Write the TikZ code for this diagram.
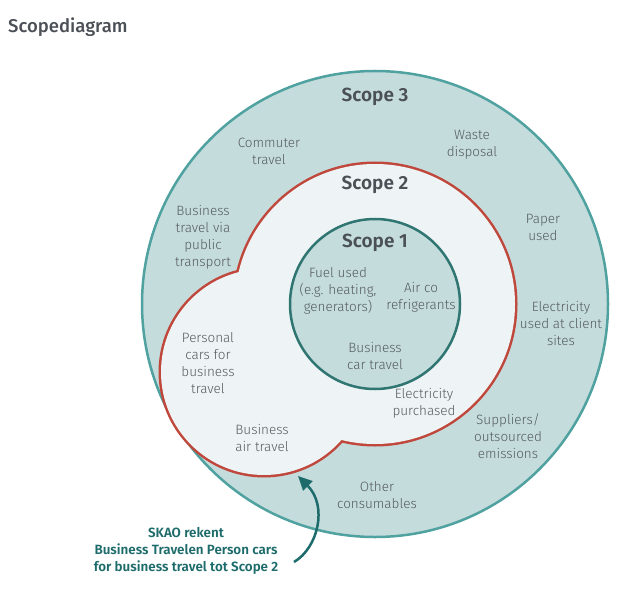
\documentclass[tikz,border=0pt]{standalone}
\usepackage{fontspec}
\setmainfont{Fira Sans}
\newfontfamily\lightfont{Fira Sans Light}
\newfontfamily\medfont{Fira Sans Medium}
\newfontfamily\semifont{Fira Sans SemiBold}
\usetikzlibrary{arrows.meta}
\definecolor{sthreefill}{HTML}{C5DCDC}
\definecolor{sthreeline}{HTML}{4FA29F}
\definecolor{stwofill}{HTML}{EEF4F5}
\definecolor{stwoline}{HTML}{C0473B}
\definecolor{soneline}{HTML}{2F7572}
\definecolor{txtgray}{HTML}{555B61}
\definecolor{hdgray}{HTML}{4A5056}
\definecolor{noteteal}{HTML}{1E6B6B}
\begin{document}
\begin{tikzpicture}[x=1pt,y=-1pt,
  lbl/.style={font=\lightfont\fontsize{13.5}{17}\selectfont, text=txtgray, align=center, inner sep=0pt},
  hd/.style={font=\semifont\fontsize{19}{22}\selectfont, text=hdgray, inner sep=0pt},
  ann/.style={font=\semifont\fontsize{13.4}{17}\selectfont, text=noteteal, align=center, inner sep=0pt},
  ttl/.style={font=\medfont\fontsize{18.5}{22}\selectfont, text=hdgray, inner sep=0pt, anchor=west}]
\useasboundingbox (0,0) rectangle (626,596);
\fill[white] (0,0) rectangle (626,596);
% Scope 3
\filldraw[fill=sthreefill, draw=sthreeline, line width=2.5pt] (375,304) circle[radius=233pt];
% Scope 2 (union of two circles)
\draw[stwoline, line width=5pt] (375,304) circle[radius=140pt];
\draw[stwoline, line width=5pt] (264,372) circle[radius=103pt];
\fill[stwofill] (375,304) circle[radius=140pt];
\fill[stwofill] (264,372) circle[radius=103pt];
% Scope 1
\filldraw[fill=sthreefill, draw=soneline, line width=2.5pt] (375,304) circle[radius=85pt];
% title
\node[ttl] (title) at (8,27) {Scopediagram};
% headings
\node[hd] (s3) at (375,97) {Scope 3};
\node[hd] (s2) at (375,185) {Scope 2};
\node[hd] (s1) at (375,243) {Scope 1};
% labels
\node[lbl] (commuter) at (269,151) {Commuter\\travel};
\node[lbl] (waste) at (472,145) {Waste\\disposal};
\node[lbl] (public) at (203,237) {Business\\travel via\\public\\transport};
\node[lbl] (fuel) at (338,291) {Fuel used\\(e.g. heating,\\generators)};
\node[lbl] (airco) at (421,297) {Air co\\refrigerants};
\node[lbl] (car) at (375,356) {Business\\car travel};
\node[lbl] (paper) at (543,227) {Paper\\used};
\node[lbl] (client) at (561,323) {Electricity\\used at client\\sites};
\node[lbl] (personal) at (208,363) {Personal\\cars for\\business\\travel};
\node[lbl] (elec) at (424,403) {Electricity\\purchased};
\node[lbl] (suppliers) at (508,436) {Suppliers/\\outsourced\\emissions};
\node[lbl] (air) at (262,438) {Business\\air travel};
\node[lbl] (other) at (377,495) {Other\\consumables};
% annotation
\node[ann] (note) at (186,551) {SKAO rekent\\Business Travelen Person cars\\for business travel tot Scope 2};
\coordinate (tail) at (294,562);
\coordinate (tip) at (298,476);
\draw[noteteal, line width=2.5pt, -{Triangle[length=14pt,width=13pt]}] (tail) .. controls (318,548) and (328,506) .. (tip);
\end{tikzpicture}
\end{document}
